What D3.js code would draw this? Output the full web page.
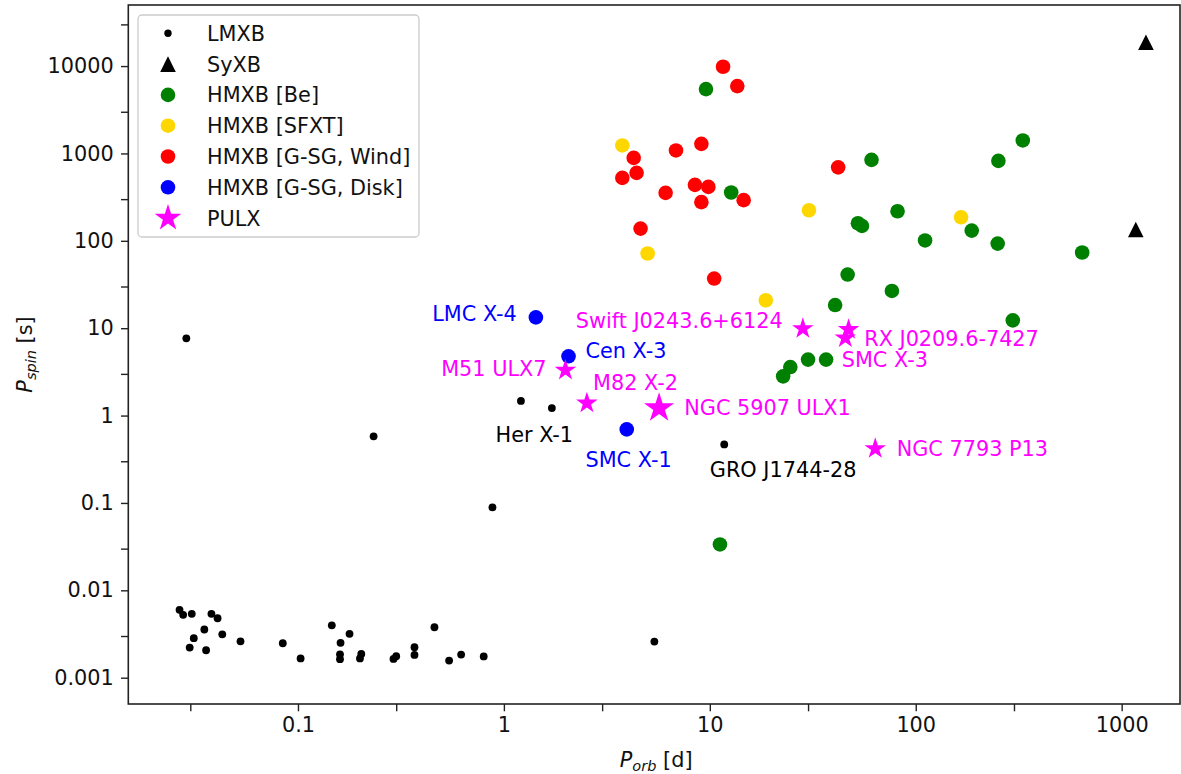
<!DOCTYPE html>
<html>
<head>
<meta charset="utf-8">
<script src="https://cdn.jsdelivr.net/npm/d3@7"></script>
<style>
  html, body { margin: 0; padding: 0; background: #fff; }
  svg { display: block; font-family: "DejaVu Sans", sans-serif; }
</style>
</head>
<body>
<svg id="chart" width="1181" height="774"></svg>
<script>
// ---------------- DATA ----------------
const xTickValues = [0.1, 1, 10, 100, 1000];
const xTickLabels = ["0.1", "1", "10", "100", "1000"];
const xMinorTicks = [0.03, 0.3, 3, 30, 300];
const yTickValues = [10000, 1000, 100, 10, 1, 0.1, 0.01, 0.001];
const yTickLabels = ["10000", "1000", "100", "10", "1", "0.1", "0.01", "0.001"];
const yMinorTicks = [30000, 3000, 300, 30, 3, 0.3, 0.03, 0.003];

const legendLabels = ["LMXB", "SyXB", "HMXB [Be]", "HMXB [SFXT]", "HMXB [G-SG, Wind]", "HMXB [G-SG, Disk]", "PULX"];

// LMXB (small black dots)
const lmxbPorb = [0.0266, 0.0277, 0.0305, 0.038, 0.0407, 0.0351, 0.0312, 0.0298, 0.0358, 0.0429,
  0.0526, 0.0844, 0.103, 0.146, 0.178, 0.161, 0.160, 0.160, 0.203, 0.200,
  0.300, 0.291, 0.368, 0.368, 0.460, 0.542, 0.620, 0.798, 0.0287, 0.233,
  0.88, 1.21, 1.71, 5.38, 11.75];
const lmxbPspin = [0.00598, 0.00524, 0.00538, 0.00538, 0.00479, 0.00356, 0.00283, 0.00221, 0.00206, 0.00314,
  0.00261, 0.00248, 0.00166, 0.00398, 0.00318, 0.00251, 0.00185, 0.00163, 0.00187, 0.00166,
  0.00176, 0.00164, 0.00223, 0.00182, 0.00378, 0.00157, 0.00184, 0.00175, 7.66, 0.578,
  0.089, 1.47, 1.22, 0.00259, 0.468];

// SyXB (black triangles)
const syxbPorb = [1312, 1171];
const syxbPspin = [18720, 135];

// HMXB Be (green)
const bePorb = [9.58, 12.7, 61.0, 252, 331, 81.6, 52.4, 54.8, 187, 111,
  250, 643, 46.7, 76.6, 40.6, 296, 30.0, 36.7, 24.6, 22.7, 11.2];
const bePspin = [5450, 357, 845, 823, 1409, 218, 159, 148, 131, 101,
  93, 73.5, 41.1, 26.7, 18.4, 12.3, 4.37, 4.37, 3.59, 2.81, 0.0335];

// HMXB SFXT (gold)
const sfxtPorb = [3.76, 30.3, 4.99, 166, 18.7];
const sfxtPspin = [1235, 224, 71.6, 186, 20.9];

// HMXB G-SG wind (red)
const windPorb = [11.6, 13.6, 9.10, 6.85, 4.27, 4.41, 3.76, 6.10, 8.47, 9.84, 14.6, 9.10, 42.0, 4.61, 10.5];
const windPspin = [9820, 5900, 1288, 1082, 891, 600, 526, 354, 437, 414, 292, 277, 693, 138, 37];

// HMXB G-SG disk (blue)
const diskNames = ["LMC X-4", "Cen X-3", "SMC X-1"];
const diskPorb = [1.43, 2.06, 3.95];
const diskPspin = [13.3, 4.77, 0.695];

// PULX (magenta stars)
const pulxNames = ["Swift J0243.6+6124", "RX J0209.6-7427", "SMC X-3", "M51 ULX7", "M82 X-2", "NGC 5907 ULX1", "NGC 7793 P13"];
const pulxPorb = [28.3, 47.2, 45.5, 1.99, 2.53, 5.67, 63.6];
const pulxPspin = [9.89, 9.64, 7.73, 3.30, 1.39, 1.22, 0.418];
const pulxBig = [false, false, false, false, false, true, false];

// Annotations (text, anchor position in data coords)
const annText = ["LMC X-4", "Cen X-3", "SMC X-1", "Her X-1", "GRO J1744-28",
  "M51 ULX7", "M82 X-2", "NGC 5907 ULX1", "Swift J0243.6+6124", "RX J0209.6-7427", "SMC X-3", "NGC 7793 P13"];
const annPorb = [1.156, 2.49, 2.49, 0.911, 10.0, 1.61, 2.71, 7.51, 22.6, 56.2, 43.7, 80.8];
const annPspin = [14.6, 5.54, 0.311, 0.613, 0.2436, 3.51, 2.39, 1.235, 12.2, 7.69, 4.34, 0.4236];
const annColor = ["blue", "blue", "blue", "black", "black",
  "magenta", "magenta", "magenta", "magenta", "magenta", "magenta", "magenta"];
const annAnchor = ["end", "start", "start", "start", "start",
  "end", "start", "start", "end", "start", "start", "start"];

// ---------------- DRAW ----------------
const svg = d3.select("#chart");
const W = 1181, H = 774;
const m = { left: 128.3, right: 1180, top: 5, bottom: 704 };
const FS = 20.8;

const x = d3.scaleLog().domain([0.015, 1920]).range([m.left, m.right]);
const y = d3.scaleLog().domain([0.0005, 50000]).range([m.bottom, m.top]);

svg.append("rect").attr("width", W).attr("height", H).attr("fill", "#fff");

const plot = svg.append("g");

function starPath(R) {
  const r = R * 0.381966;
  const pts = [];
  for (let i = 0; i < 10; i++) {
    const a = -Math.PI / 2 + i * Math.PI / 5;
    const rr = i % 2 === 0 ? R : r;
    pts.push([rr * Math.cos(a), rr * Math.sin(a)]);
  }
  return "M" + pts.map(p => p[0].toFixed(2) + "," + p[1].toFixed(2)).join("L") + "Z";
}
function triPath(h) {
  return `M0,${-h}L${h},${h}L${-h},${h}Z`;
}

function circles(px, py, r, color) {
  plot.append("g").selectAll("circle")
    .data(d3.range(px.length))
    .join("circle")
    .attr("cx", i => x(px[i]))
    .attr("cy", i => y(py[i]))
    .attr("r", r)
    .attr("fill", color);
}

circles(lmxbPorb, lmxbPspin, 3.9, "black");
plot.append("g").selectAll("path")
  .data(d3.range(syxbPorb.length))
  .join("path")
  .attr("d", triPath(7.8))
  .attr("transform", i => `translate(${x(syxbPorb[i])},${y(syxbPspin[i])})`)
  .attr("fill", "black");
circles(bePorb, bePspin, 7.3, "green");
circles(sfxtPorb, sfxtPspin, 7.3, "gold");
circles(windPorb, windPspin, 7.3, "red");
circles(diskPorb, diskPspin, 7.3, "blue");
plot.append("g").selectAll("path")
  .data(d3.range(pulxPorb.length))
  .join("path")
  .attr("d", i => starPath(pulxBig[i] ? 15.8 : 11.3))
  .attr("transform", i => `translate(${x(pulxPorb[i])},${y(pulxPspin[i])})`)
  .attr("fill", "magenta");

// annotations
svg.append("g").selectAll("text")
  .data(d3.range(annText.length))
  .join("text")
  .attr("x", i => x(annPorb[i]))
  .attr("y", i => y(annPspin[i]) + FS * 0.365)
  .attr("text-anchor", i => annAnchor[i])
  .attr("fill", i => annColor[i])
  .attr("font-size", FS)
  .text(i => annText[i]);

// axes
const spineColor = "#222";
const xAxis = d3.axisBottom(x).tickValues(xTickValues)
  .tickFormat((d, i) => xTickLabels[i]).tickSize(7.3).tickPadding(5.5);
const gx = svg.append("g").attr("transform", `translate(0,${m.bottom})`).call(xAxis);
gx.selectAll(".tick").data(xMinorTicks, function(){}); // no-op
svg.append("g").attr("transform", `translate(0,${m.bottom})`)
  .call(d3.axisBottom(x).tickValues(xMinorTicks).tickFormat("").tickSize(7.3))
  .call(g => g.select(".domain").remove());

const yAxis = d3.axisLeft(y).tickValues(yTickValues)
  .tickFormat((d, i) => yTickLabels[i]).tickSize(7.3).tickPadding(7.3);
const gy = svg.append("g").attr("transform", `translate(${m.left},0)`).call(yAxis);
svg.append("g").attr("transform", `translate(${m.left},0)`)
  .call(d3.axisLeft(y).tickValues(yMinorTicks).tickFormat("").tickSize(7.3))
  .call(g => g.select(".domain").remove());

svg.selectAll(".domain").remove();
svg.selectAll(".tick line").attr("stroke", spineColor).attr("stroke-width", 1.4);
svg.selectAll(".tick text").attr("font-size", FS).attr("fill", "#111")
  .attr("font-family", "DejaVu Sans, sans-serif");

// frame
svg.append("rect")
  .attr("x", m.left).attr("y", m.top)
  .attr("width", m.right - m.left).attr("height", m.bottom - m.top)
  .attr("fill", "none").attr("stroke", spineColor).attr("stroke-width", 1.6);

// axis labels
const xl = svg.append("text")
  .attr("x", (m.left + m.right) / 2 + 2).attr("y", 767)
  .attr("text-anchor", "middle").attr("font-size", FS).attr("fill", "#111");
xl.append("tspan").attr("font-style", "italic").text("P");
xl.append("tspan").attr("font-style", "italic").attr("font-size", FS * 0.7).attr("dy", 4).text("orb");
xl.append("tspan").attr("dy", -4).text(" [d]");

const yl = svg.append("text")
  .attr("transform", `translate(31.5,${(m.top + m.bottom) / 2}) rotate(-90)`)
  .attr("text-anchor", "middle").attr("font-size", FS).attr("fill", "#111");
yl.append("tspan").attr("font-style", "italic").text("P");
yl.append("tspan").attr("font-style", "italic").attr("font-size", FS * 0.7).attr("dy", 4).text("spin");
yl.append("tspan").attr("dy", -4).text(" [s]");

// legend
const leg = svg.append("g");
leg.append("rect")
  .attr("x", 138).attr("y", 15).attr("width", 281).attr("height", 222)
  .attr("rx", 4).attr("fill", "white").attr("fill-opacity", 0.8)
  .attr("stroke", "#cccccc").attr("stroke-width", 1.3);
const legMarkers = [
  g => g.append("circle").attr("r", 3.7).attr("fill", "black"),
  g => g.append("path").attr("d", triPath(7.8)).attr("fill", "black"),
  g => g.append("circle").attr("r", 7.3).attr("fill", "green"),
  g => g.append("circle").attr("r", 7.3).attr("fill", "gold"),
  g => g.append("circle").attr("r", 7.3).attr("fill", "red"),
  g => g.append("circle").attr("r", 7.3).attr("fill", "blue"),
  g => g.append("path").attr("d", starPath(14)).attr("fill", "magenta")
];
legendLabels.forEach((lab, i) => {
  const cy = 33.3 + 30.8 * i;
  const g = leg.append("g").attr("transform", `translate(168,${cy})`);
  legMarkers[i](g);
  leg.append("text").attr("x", 207).attr("y", cy + 7.4)
    .attr("font-size", FS).attr("fill", "#111").text(lab);
});
</script>
</body>
</html>
